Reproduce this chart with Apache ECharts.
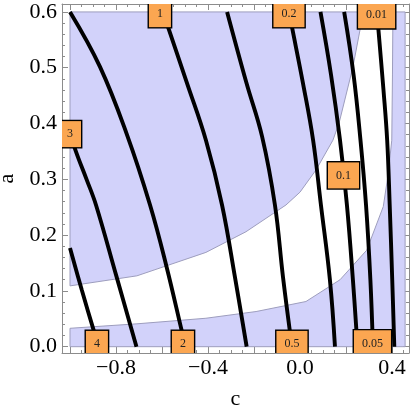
<!DOCTYPE html>
<html><head><meta charset="utf-8">
<script src="https://cdn.jsdelivr.net/npm/echarts@6/dist/echarts.min.js"></script>
<style>html,body{margin:0;padding:0;background:#fff}#chart{width:412px;height:410px}</style>
</head><body><div id="chart"></div>
<script>
// ---- data (c, a) ----
const xTickLabels = [-0.8, -0.4, 0.0, 0.4];
const yTickLabels = [0.0, 0.1, 0.2, 0.3, 0.4, 0.5, 0.6];
const contourLevels = ['4', '3', '2', '1', '0.5', '0.2', '0.1', '0.05', '0.01'];

const contour_4 = [[-1.0, 0.177], [-0.949, 0.102], [-0.896, 0.028], [-0.875, 0.0]];
const contour_3 = [[-1.0, 0.385], [-0.976, 0.352], [-0.928, 0.300], [-0.887, 0.254], [-0.798, 0.126], [-0.711, 0.0]];
const contour_2 = [[-1.0, 0.6], [-0.870, 0.502], [-0.754, 0.382], [-0.652, 0.254], [-0.580, 0.143], [-0.514, 0.028], [-0.498, 0.0]];
const contour_1 = [[-0.596, 0.6], [-0.574, 0.573], [-0.491, 0.472], [-0.409, 0.370], [-0.339, 0.254], [-0.283, 0.125], [-0.232, 0.0]];
const contour_05 = [[-0.317, 0.6], [-0.233, 0.473], [-0.165, 0.377], [-0.109, 0.254], [-0.074, 0.125], [-0.035, 0.0]];
const contour_02 = [[-0.048, 0.6], [-0.035, 0.573], [0.013, 0.472], [0.057, 0.370], [0.091, 0.254], [0.130, 0.120], [0.152, 0.0]];
const contour_01 = [[0.089, 0.6], [0.135, 0.487], [0.174, 0.370], [0.204, 0.254], [0.230, 0.120], [0.250, 0.0]];
const contour_005 = [[0.192, 0.6], [0.233, 0.487], [0.263, 0.370], [0.287, 0.254], [0.306, 0.120], [0.317, 0.0]];
const contour_001 = [[0.335, 0.6], [0.341, 0.568], [0.363, 0.460], [0.379, 0.370], [0.390, 0.254], [0.401, 0.120], [0.410, 0.0]];

// label positions for each contour level (same order as contourLevels)
const labelPositions = [[-0.883, 0.005], [-1.0, 0.381], [-0.509, 0.005], [-0.609, 0.596], [-0.035, 0.005],
                        [-0.048, 0.596], [0.189, 0.307], [0.315, 0.006], [0.333, 0.594]];

// shaded regions
const upperRegionEdge = [[-1.0, 0.109], [-0.709, 0.127], [-0.409, 0.169], [-0.235, 0.206], [-0.061, 0.254],
                         [0.0, 0.277], [0.070, 0.317], [0.143, 0.370], [0.170, 0.401], [0.230, 0.501],
                         [0.261, 0.568], [0.274, 0.6]];
const lowerRegionEdge = [[-1.0, 0.033], [-0.709, 0.041], [-0.409, 0.051], [-0.191, 0.063], [0.026, 0.081],
                         [0.174, 0.120], [0.290, 0.173], [0.362, 0.251], [0.383, 0.308], [0.399, 0.370],
                         [0.402, 0.487], [0.404, 0.6]];
const cRange = [-1.0, 0.457];
const aRange = [0.0, 0.6];

// ---- build ----
const contours = [contour_4, contour_3, contour_2, contour_1, contour_05, contour_02, contour_01, contour_005, contour_001];
const upperPoly = [[cRange[0], aRange[1]]].concat(upperRegionEdge);
const lowerPoly = [[cRange[0], aRange[0]]].concat(lowerRegionEdge, [[cRange[1], aRange[1]], [cRange[1], aRange[0]]]);
const regions = [upperPoly, lowerPoly];

function steps(a, b, s) { const r = []; const n = Math.round((b - a) / s); for (let i = 0; i <= n; i++) r.push(+(a + i * s).toFixed(4)); return r; }
const xMajor = steps(-1.0, 0.4, 0.2), xMinor = steps(-1.0, 0.45, 0.05);
const yMajor = steps(0, 0.6, 0.1), yMinor = steps(0, 0.6, 0.02);

const X0 = -1.0348, X1 = 0.4739, Y0 = -0.0113, Y1 = 0.6142;
const FRAME = '#8c8c8c', SERIF = '"Liberation Serif","Times New Roman",serif';

function xAx(pos, vals, len, main) {
  return {
    type: 'value', position: pos, min: X0, max: X1, splitLine: { show: false },
    axisLine: { show: main, onZero: false, lineStyle: { color: FRAME, width: 1 } },
    axisTick: { show: true, inside: true, length: len, customValues: vals, lineStyle: { color: FRAME, width: 1 } },
    axisLabel: (main && pos === 'bottom') ? {
      customValues: xTickLabels, margin: 4, color: '#000', fontFamily: SERIF, fontSize: 22,
      formatter: v => (v < -1e-9 ? '\u2212' : '') + Math.abs(v).toFixed(1)
    } : { show: false },
    name: (main && pos === 'bottom') ? 'c' : '', nameLocation: 'middle', nameGap: 35,
    nameTextStyle: { color: '#000', fontFamily: SERIF, fontSize: 22 }
  };
}
function yAx(pos, vals, len, main) {
  return {
    type: 'value', position: pos, min: Y0, max: Y1, splitLine: { show: false },
    axisLine: { show: main, onZero: false, lineStyle: { color: FRAME, width: 1 } },
    axisTick: { show: true, inside: true, length: len, customValues: vals, lineStyle: { color: FRAME, width: 1 } },
    axisLabel: (main && pos === 'left') ? {
      customValues: yTickLabels, margin: 5, color: '#000', fontFamily: SERIF, fontSize: 22,
      formatter: v => Math.abs(v).toFixed(1)
    } : { show: false },
    name: (main && pos === 'left') ? 'a' : '', nameLocation: 'middle', nameGap: 41,
    nameTextStyle: { color: '#000', fontFamily: SERIF, fontSize: 22 }
  };
}

const series = [];
series.push({
  type: 'custom', xAxisIndex: 0, yAxisIndex: 0, clip: true, silent: true, z: 1,
  data: regions.map(r => r[0]),
  renderItem: function (params, api) {
    const poly = regions[params.dataIndex];
    return { type: 'polygon', shape: { points: poly.map(p => api.coord(p)) },
             style: { fill: '#D2D2FA', stroke: '#9d9dbd', lineWidth: 1 } };
  }
});
contours.forEach(function (c) {
  series.push({ type: 'line', xAxisIndex: 0, yAxisIndex: 0, data: c, smooth: 0.4, symbol: 'none', silent: true,
                clip: true, z: 3, lineStyle: { color: '#000', width: 3.9, cap: 'butt' } });
});
series.push({
  type: 'custom', xAxisIndex: 0, yAxisIndex: 0, clip: true, silent: true, z: 5,
  data: labelPositions,
  renderItem: function (params, api) {
    const p = api.coord(labelPositions[params.dataIndex]);
    return { type: 'text', x: p[0], y: p[1], z2: 10,
      style: { text: contourLevels[params.dataIndex], align: 'center', verticalAlign: 'middle',
               font: '12px ' + SERIF, fill: '#222', lineHeight: 12,
               backgroundColor: '#FBA651', borderColor: '#000', borderWidth: 1.4, padding: [7, 8, 7, 8] } };
  }
});

const chart = echarts.init(document.getElementById('chart'), null, { renderer: 'canvas' });
chart.setOption({
  animation: false,
  grid: { left: 62, top: 4, width: 347, height: 349, containLabel: false, outerBoundsMode: 'none' },
  xAxis: [xAx('bottom', xMajor, 6, true), xAx('bottom', xMinor, 3, false), xAx('top', xMajor, 6, true), xAx('top', xMinor, 3, false)],
  yAxis: [yAx('left', yMajor, 6, true), yAx('left', yMinor, 3, false), yAx('right', yMajor, 6, true), yAx('right', yMinor, 3, false)],
  series: series
});
</script></body></html>
